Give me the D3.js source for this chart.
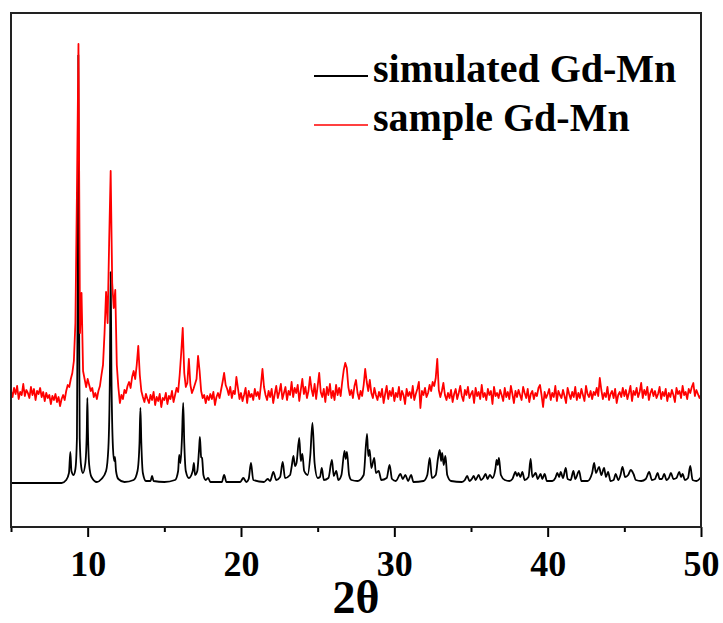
<!DOCTYPE html>
<html>
<head>
<meta charset="utf-8">
<script src="https://cdn.jsdelivr.net/npm/d3@7"></script>
<style>
  body { margin: 0; background: #fff; }
  svg { display: block; }
</style>
</head>
<body>
<div id="chart"></div>
<script>
'use strict'

// legend entries
const seriesNames = ['simulated Gd-Mn', 'sample Gd-Mn']

// x axis ticks (2θ, degrees)
const majorTicks = [10, 20, 30, 40, 50]
const minorTicks = [5, 15, 25, 35, 45]

// simulated pattern as [2θ, intensity] vertices
const simulated = [
  [5,0],[8.3,0],[8.6,3],[8.78,10],[8.87,31],[8.94,12],[9.08,8],[9.2,14],[9.3,45],[9.35,200],[9.39,428],[9.43,200],[9.48,45],[9.58,16],
  [9.69,10],[9.85,20],[9.94,50],[9.98,85],[10.02,50],[10.1,18],[10.25,6],[10.6,1],[10.9,4],[11.2,12],[11.35,35],[11.45,110],[11.5,211],
  [11.55,110],[11.65,35],[11.73,22],[11.78,26],[11.85,12],[12.0,4],[12.4,1],[13.0,3],[13.25,12],[13.38,40],[13.44,75],[13.5,40],[13.6,10],
  [13.8,2],[14.1,2],[14.2,7],[14.3,2],[15.0,1],[15.7,3],[15.9,12],[15.97,28],[16.05,20],[16.15,45],[16.23,80],[16.3,40],[16.4,12],[16.6,5],
  [16.85,12],[16.93,20],[17.0,8],[17.15,12],[17.27,35],[17.32,46],[17.4,26],[17.46,25],[17.55,8],[17.7,3],[17.86,5],[18.0,1],[18.75,1],
  [18.9,8],[19.05,1],[19.95,1],[20.15,5],[20.35,1],[20.5,4],[20.65,20],[20.8,3],[21.5,1],[21.74,4],[21.9,2],[22.11,11],[22.3,3],[22.55,6],
  [22.72,21],[22.87,5],[23.2,8],[23.3,16],[23.42,27],[23.52,17],[23.62,20],[23.8,45],[23.9,22],[24.0,29],[24.12,12],[24.35,8],[24.52,28],
  [24.66,60],[24.8,20],[25.0,5],[25.15,6],[25.27,15],[25.4,3],[25.7,5],[25.93,23],[26.05,7],[26.21,12],[26.35,3],[26.55,8],[26.75,32],
  [26.83,24],[26.91,31],[27.05,8],[27.2,3],[27.6,2],[28.0,8],[28.22,49],[28.3,27],[28.39,33],[28.5,15],[28.69,25],[28.8,10],[28.98,12],
  [29.15,3],[29.5,5],[29.69,18],[29.85,4],[30.1,2],[30.4,9],[30.55,4],[30.72,8],[30.9,2],[31.09,8],[31.25,1],[31.9,2],[32.15,8],[32.31,25],
  [32.45,5],[32.7,8],[32.85,25],[32.96,33],[33.05,22],[33.12,30],[33.22,18],[33.33,27],[33.45,8],[33.7,2],[34.4,1],[34.6,3],[34.75,7],
  [34.9,2],[35.05,4],[35.18,7],[35.3,3],[35.5,8],[35.65,3],[35.8,5],[35.95,9],[36.08,4],[36.23,8],[36.4,5],[36.6,15],[36.67,23],[36.75,18],
  [36.82,25],[36.95,8],[37.2,3],[37.5,2],[37.7,4],[37.9,11],[38.0,7],[38.1,10],[38.22,6],[38.35,11],[38.5,3],[38.75,6],[38.89,24],[39.0,6],
  [39.22,10],[39.35,4],[39.54,9],[39.65,4],[39.8,9],[39.95,2],[40.3,2],[40.5,5],[40.63,10],[40.75,6],[40.85,11],[41.0,5],[41.18,15],[41.3,4],
  [41.5,3],[41.68,12],[41.8,4],[42.05,12],[42.2,2],[42.6,2],[42.9,10],[43.03,20],[43.15,10],[43.35,16],[43.5,8],[43.68,15],[43.8,6],
  [43.94,11],[44.1,2],[44.3,3],[44.44,9],[44.6,3],[44.75,8],[44.88,16],[45.05,6],[45.25,8],[45.42,13],[45.6,9],[45.75,3],[46.1,2],[46.4,4],
  [46.62,11],[46.8,3],[47.0,4],[47.17,10],[47.3,4],[47.45,4],[47.6,9],[47.75,3],[47.9,5],[48.04,10],[48.2,4],[48.4,5],[48.58,11],[48.7,6],
  [48.8,9],[48.95,3],[49.15,5],[49.3,17],[49.45,3],[49.7,2],[49.9,4],[50,6]
]

// measured pattern, one value every 0.1 degree from 5.0 to 50.0
const sampleStart = 5
const sampleStep = 0.1
const sample = [
  92, 86, 95, 89, 97, 84, 91, 88, 99, 87,
  93, 90, 85, 96, 88, 94, 83, 92, 89, 95,
  86, 91, 82, 90, 85, 88, 79, 87, 83, 89,
  81, 86, 77, 84, 88, 83, 92, 98, 96, 104,
  110, 122, 160, 290, 439, 150, 190, 112, 104, 96,
  104, 98, 92, 95, 86, 90, 84, 92, 97, 108,
  118, 150, 191, 160, 240, 312, 200, 175, 193, 118,
  96, 80, 88, 84, 93, 90, 97, 101, 95, 106,
  112, 104, 118, 137, 108, 92, 86, 81, 89, 84,
  80, 88, 83, 91, 78, 86, 82, 89, 76, 85,
  83, 90, 79, 87, 84, 92, 81, 88, 95, 91,
  108, 130, 155, 110, 96, 100, 124, 98, 90, 94,
  99, 104, 127, 112, 92, 85, 88, 80, 87, 83,
  89, 84, 91, 78, 86, 90, 85, 93, 101, 110,
  98, 94, 88, 96, 85, 92, 89, 106, 95, 84,
  90, 82, 88, 95, 80, 92, 86, 89, 83, 94,
  87, 91, 84, 98, 114, 96, 88, 83, 92, 86,
  94, 80, 89, 97, 85, 91, 99, 84, 90, 96,
  83, 92, 88, 101, 86, 95, 90, 98, 82, 93,
  104, 89, 96, 85, 92, 106, 94, 87, 99, 84,
  97, 110, 91, 86, 94, 81, 96, 88, 99, 85,
  92, 83, 98, 88, 95, 87, 101, 113, 120, 115,
  96, 88, 93, 85, 97, 103, 90, 84, 92, 87,
  98, 114, 101, 92, 103, 90, 85, 95, 88, 83,
  91, 86, 94, 80, 89, 97, 84, 92, 87, 95,
  82, 90, 86, 96, 83, 92, 88, 79, 94, 87,
  91, 85, 97, 83, 89, 94, 101, 75, 92, 88,
  95, 86, 90, 98, 92, 101, 97, 105, 124, 93,
  86, 92, 100, 88, 83, 90, 85, 93, 81, 89,
  94, 84, 90, 97, 87, 82, 93, 88, 96, 85,
  89, 92, 80, 95, 87, 91, 84, 98, 86, 90,
  83, 94, 88, 92, 79, 96, 87, 90, 85, 93,
  88, 82, 95, 86, 91, 84, 97, 89, 80, 92,
  86, 93, 88, 83, 96, 90, 85, 94, 81, 89,
  92, 84, 90, 87, 95, 98, 88, 76, 91, 85,
  89, 94, 83, 90, 86, 97, 82, 92, 88, 85,
  93, 87, 80, 95, 89, 84, 91, 86, 96, 83,
  90, 85, 94, 88, 82, 97, 89, 86, 92, 84,
  91, 88, 95, 87, 105, 93, 84, 90, 86, 96,
  83, 89, 92, 85, 94, 80, 88, 91, 86, 95,
  87, 93, 84, 90, 97, 82, 92, 88, 95, 86,
  91, 100, 85, 93, 88, 96, 83, 90, 94, 87,
  92, 85, 89, 96, 84, 91, 87, 94, 82, 90,
  86, 93, 88, 81, 95, 89, 92, 85, 97, 88,
  91, 84, 94, 90, 96, 100, 87, 93, 89, 85,
  88
]

const svgWidth = 723
const svgHeight = 623
const margin = {left: 11, right: 22, top: 13, bottom: 96}
const width = svgWidth - margin.left - margin.right
const height = svgHeight - margin.top - margin.bottom

const serif = '"Liberation Serif", "Times New Roman", Times, serif'
const colors = ['#000000', '#ff0000']

const svg = d3.select('#chart')
    .append('svg')
    .attr('width', svgWidth)
    .attr('height', svgHeight)

const g = svg.append('g')
    .attr('transform', 'translate(' + margin.left + ',' + margin.top + ')')

const x = d3.scaleLinear().domain([5, 50]).range([0, width])
const y = d3.scaleLinear().domain([-44, 470]).range([height, 0])

g.append('clipPath').attr('id', 'plot-clip')
  .append('rect').attr('width', width).attr('height', height)

// simulated (black) first, sample (red) drawn over it
const simLine = d3.line()
    .x(d => x(d[0]))
    .y(d => y(d[1]))
    .curve(d3.curveMonotoneX)

const samplePts = sample.map((v, i) => [sampleStart + i * sampleStep, v])
const sampleLine = d3.line()
    .x(d => x(d[0]))
    .y(d => y(d[1]))

const plot = g.append('g').attr('clip-path', 'url(#plot-clip)')

plot.append('path')
    .datum(simulated)
    .attr('fill', 'none')
    .attr('stroke', colors[0])
    .attr('stroke-width', 1.8)
    .attr('stroke-linejoin', 'round')
    .attr('d', simLine)

plot.append('path')
    .datum(samplePts)
    .attr('fill', 'none')
    .attr('stroke', colors[1])
    .attr('stroke-width', 1.8)
    .attr('stroke-linejoin', 'round')
    .attr('d', sampleLine)

// x axis: major + minor ticks, pointing outward
const xMajor = g.append('g')
    .attr('transform', 'translate(0,' + height + ')')
    .call(d3.axisBottom(x).tickValues(majorTicks).tickSize(10).tickPadding(13).tickFormat(d3.format('d')))
xMajor.select('.domain').remove()
xMajor.selectAll('line').attr('stroke', '#000').attr('stroke-width', 2)
xMajor.selectAll('text')
    .attr('font-family', serif)
    .attr('font-weight', 'bold')
    .attr('font-size', 36)
    .attr('fill', '#000')

const xMinor = g.append('g')
    .attr('transform', 'translate(0,' + height + ')')
    .call(d3.axisBottom(x).tickValues(minorTicks).tickSize(5).tickFormat(''))
xMinor.select('.domain').remove()
xMinor.selectAll('line').attr('stroke', '#000').attr('stroke-width', 2)

// frame
g.append('rect')
    .attr('width', width)
    .attr('height', height)
    .attr('fill', 'none')
    .attr('stroke', '#222')
    .attr('stroke-width', 2)

// axis title
g.append('text')
    .attr('x', width / 2)
    .attr('y', height + 86)
    .attr('text-anchor', 'middle')
    .attr('font-family', serif)
    .attr('font-weight', 'bold')
    .attr('font-size', 46)
    .attr('fill', '#000')
    .text('2θ')

// legend
const legend = g.append('g')
    .attr('transform', 'translate(303,63)')

const item = legend.selectAll('g')
    .data(seriesNames)
    .join('g')
    .attr('transform', (d, i) => 'translate(0,' + i * 49 + ')')

item.append('line')
    .attr('x1', 0).attr('x2', 54)
    .attr('y1', 0).attr('y2', 0)
    .attr('stroke', (d, i) => colors[i])
    .attr('stroke-width', (d, i) => i == 0 ? 2 : 1.5)

item.append('text')
    .attr('x', 59)
    .attr('y', 6)
    .attr('font-family', serif)
    .attr('font-weight', 'bold')
    .attr('font-size', 40)
    .attr('fill', '#000')
    .text(d => d)
</script>
</body>
</html>
